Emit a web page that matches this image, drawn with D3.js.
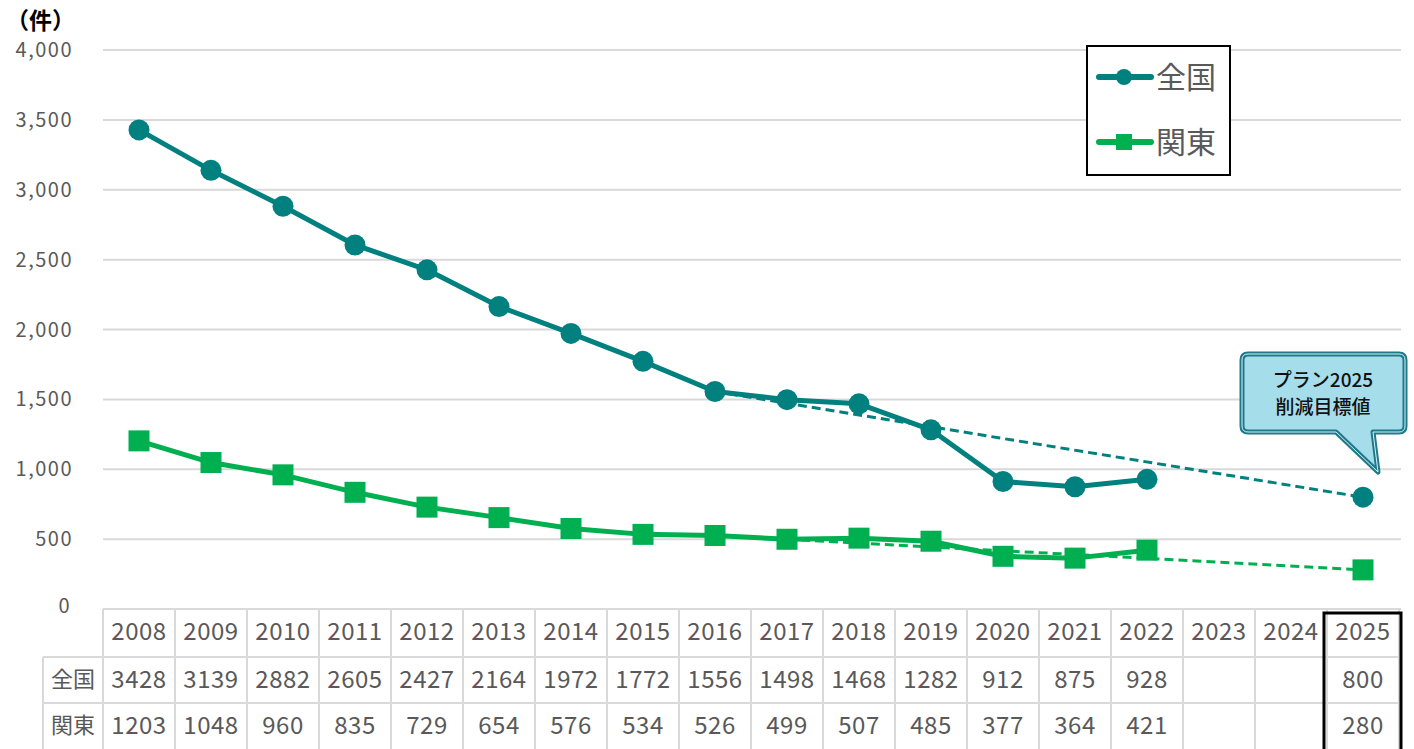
<!DOCTYPE html>
<html>
<head>
<meta charset="utf-8">
<script src="https://cdn.jsdelivr.net/npm/d3@7"></script>
<style>
  body { margin: 0; background: #fff; }
  text { font-family: "Noto Sans CJK JP", "Noto Sans", sans-serif; }
</style>
</head>
<body>
<svg width="1414" height="749"></svg>
<script>
var years = ["2008","2009","2010","2011","2012","2013","2014","2015","2016","2017","2018","2019","2020","2021","2022","2023","2024","2025"];
var zenkoku = [3428,3139,2882,2605,2427,2164,1972,1772,1556,1498,1468,1282,912,875,928,null,null,800];
var kanto = [1203,1048,960,835,729,654,576,534,526,499,507,485,377,364,421,null,null,280];
var yTicks = [0,500,1000,1500,2000,2500,3000,3500,4000];
var seriesNames = ["全国","関東"];
var colors = ["#00807f","#00b050"];
// dashed target lines: from [year index, value] to 2025
var zenkokuTarget = [[8,1556],[17,800]];
var kantoTarget = [[9,499],[17,280]];

var svg = d3.select("svg");
var pLeft = 103, pRight = 1399, pTop = 50, pBottom = 609;
var rowH = [48, 46, 46];

var x = d3.scaleBand().domain(years).range([pLeft, pRight]);
var y = d3.scaleLinear().domain([0, 4000]).range([pBottom, pTop]);
var cx = function(i) { return x(years[i]) + x.bandwidth() / 2; };

// gridlines
svg.append("g").selectAll("line").data(yTicks.filter(function(d){ return d > 0; }))
  .enter().append("line")
  .attr("x1", pLeft).attr("x2", pRight + 2)
  .attr("y1", function(d){ return y(d); }).attr("y2", function(d){ return y(d); })
  .attr("stroke", "#d9d9d9").attr("stroke-width", 2);

// y labels
svg.append("g").selectAll("text").data(yTicks).enter().append("text")
  .attr("x", function(d){ return d === 0 ? 71 : 73; })
  .attr("y", function(d){ return d === 0 ? y(d) + 4 : y(d) + 7; })
  .attr("text-anchor", "end")
  .attr("fill", "#595959").attr("font-size", 20).attr("letter-spacing", 1.5)
  .text(function(d){ return d3.format(",")(d); });

svg.append("text").attr("x", 6).attr("y", 29).attr("font-size", 23)
  .attr("font-weight", "bold").attr("fill", "#000").text("（件）");

// table
var tTop = pBottom, r1 = tTop + rowH[0], r2 = r1 + rowH[1], r3 = r2 + rowH[2];
var grid = svg.append("g").attr("stroke", "#d9d9d9").attr("stroke-width", 2);
grid.append("line").attr("x1", pLeft).attr("x2", pRight + 2).attr("y1", tTop).attr("y2", tTop);
grid.append("line").attr("x1", 43).attr("x2", pRight + 2).attr("y1", r1).attr("y2", r1);
grid.append("line").attr("x1", 43).attr("x2", pRight + 2).attr("y1", r2).attr("y2", r2);
grid.append("line").attr("x1", 43).attr("x2", 43).attr("y1", r1).attr("y2", r3);
grid.selectAll(".v").data(years.concat(["end"])).enter().append("line")
  .attr("x1", function(d, i){ return pLeft + i * x.bandwidth(); })
  .attr("x2", function(d, i){ return pLeft + i * x.bandwidth(); })
  .attr("y1", tTop).attr("y2", r3);

var tf = { fill: "#595959", size: 24 };
svg.append("g").selectAll("text").data(years).enter().append("text")
  .attr("x", function(d, i){ return cx(i); }).attr("y", tTop + 31)
  .attr("text-anchor", "middle").attr("fill", tf.fill).attr("font-size", tf.size)
  .attr("letter-spacing", 0.5).text(function(d){ return d; });

[zenkoku, kanto].forEach(function(vals, k) {
  var ry = (k === 0 ? r1 : r2) + 31;
  svg.append("text").attr("x", 73).attr("y", ry - 1).attr("text-anchor", "middle")
    .attr("fill", tf.fill).attr("font-size", 22).text(seriesNames[k]);
  svg.append("g").selectAll("text").data(vals).enter().append("text")
    .attr("x", function(d, i){ return cx(i); }).attr("y", ry)
    .attr("text-anchor", "middle").attr("fill", tf.fill).attr("font-size", tf.size)
    .attr("letter-spacing", 0.5)
    .text(function(d){ return d === null ? "" : d; });
});

// 2025 highlight box
svg.append("rect")
  .attr("x", x("2025") - 3).attr("y", tTop + 4)
  .attr("width", x.bandwidth() + 5).attr("height", r3 - tTop)
  .attr("fill", "none").attr("stroke", "#000").attr("stroke-width", 3);

// dashed target lines
[zenkokuTarget, kantoTarget].forEach(function(pts, k) {
  svg.append("line")
    .attr("x1", cx(pts[0][0])).attr("y1", y(pts[0][1]))
    .attr("x2", cx(pts[1][0])).attr("y2", y(pts[1][1]))
    .attr("stroke", colors[k]).attr("stroke-width", 3)
    .attr("stroke-dasharray", "9,5");
});

// series lines
var line = d3.line()
  .defined(function(d){ return d.v !== null; })
  .x(function(d){ return cx(d.i); }).y(function(d){ return y(d.v); });

[zenkoku, kanto].forEach(function(vals, k) {
  var pts = vals.map(function(v, i){ return {i: i, v: v}; });
  svg.append("path").datum(pts.slice(0, 15)).attr("d", line)
    .attr("fill", "none").attr("stroke", colors[k]).attr("stroke-width", 5)
    .attr("stroke-linejoin", "round");
  var valid = pts.filter(function(d){ return d.v !== null; });
  if (k === 0) {
    svg.append("g").selectAll("circle").data(valid).enter().append("circle")
      .attr("cx", function(d){ return cx(d.i); }).attr("cy", function(d){ return y(d.v); })
      .attr("r", 10.5).attr("fill", colors[k]);
  } else {
    svg.append("g").selectAll("rect").data(valid).enter().append("rect")
      .attr("x", function(d){ return cx(d.i) - 10.5; }).attr("y", function(d){ return y(d.v) - 10.5; })
      .attr("width", 21).attr("height", 21).attr("fill", colors[k]);
  }
});

// legend
var lg = svg.append("g");
lg.append("rect").attr("x", 1087).attr("y", 46).attr("width", 143).attr("height", 129)
  .attr("fill", "#fff").attr("stroke", "#000").attr("stroke-width", 2);
seriesNames.forEach(function(name, k) {
  var ly = 77 + k * 65;
  lg.append("line").attr("x1", 1099).attr("x2", 1151).attr("y1", ly).attr("y2", ly)
    .attr("stroke", colors[k]).attr("stroke-width", 6).attr("stroke-linecap", "round");
  if (k === 0) lg.append("circle").attr("cx", 1124).attr("cy", ly).attr("r", 8).attr("fill", colors[k]);
  else lg.append("rect").attr("x", 1116).attr("y", ly - 8).attr("width", 16).attr("height", 16).attr("fill", colors[k]);
  lg.append("text").attr("x", 1156).attr("y", ly + 11).attr("font-size", 30)
    .attr("fill", "#595959").text(name);
});

// callout
var co = svg.append("g");
var cpath = "M1248,354 Q1242,354 1242,360 L1242,426 Q1242,432 1248,432 L1336,432 L1378,472 L1373,432 L1399,432 Q1405,432 1405,426 L1405,360 Q1405,354 1399,354 Z";
co.append("path").attr("d", cpath).attr("fill", "#a6ddeb")
  .attr("stroke", "#1e7a8a").attr("stroke-width", 5).attr("stroke-linejoin", "round");
co.append("path").attr("d", cpath).attr("fill", "none")
  .attr("stroke", "#d8f1f7").attr("stroke-width", 1);
co.append("text").attr("x", 1323).attr("y", 387).attr("text-anchor", "middle")
  .attr("font-size", 19).attr("font-weight", 500).attr("fill", "#111").text("プラン2025");
co.append("text").attr("x", 1323).attr("y", 414).attr("text-anchor", "middle")
  .attr("font-size", 19).attr("font-weight", 500).attr("fill", "#111").text("削減目標値");
</script>
</body>
</html>
